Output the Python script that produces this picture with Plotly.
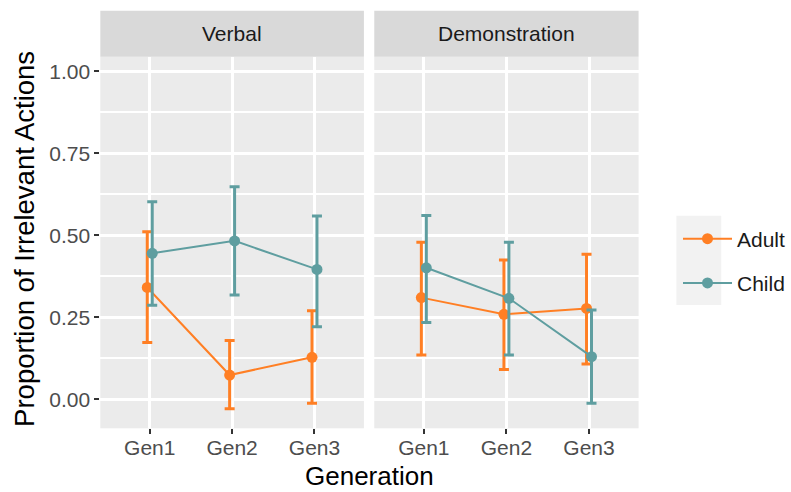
import plotly.graph_objects as go

# ---- data ----
generations = ["Gen1", "Gen2", "Gen3"]
panels = ["Verbal", "Demonstration"]
groups = ["Adult", "Child"]

verbal_adult_mean = [0.341, 0.074, 0.128]
verbal_adult_upper = [0.511, 0.179, 0.270]
verbal_adult_lower = [0.173, -0.029, -0.012]

verbal_child_mean = [0.445, 0.483, 0.396]
verbal_child_upper = [0.602, 0.648, 0.559]
verbal_child_lower = [0.287, 0.318, 0.221]

demo_adult_mean = [0.310, 0.259, 0.277]
demo_adult_upper = [0.479, 0.425, 0.442]
demo_adult_lower = [0.135, 0.091, 0.108]

demo_child_mean = [0.401, 0.308, 0.130]
demo_child_upper = [0.560, 0.479, 0.272]
demo_child_lower = [0.234, 0.135, -0.012]

y_ticks = [0.0, 0.25, 0.5, 0.75, 1.0]
y_tick_labels = ["0.00", "0.25", "0.50", "0.75", "1.00"]

# ---- styling ----
colors = {"Adult": "#FF7F24", "Child": "#5F9EA0"}
dodge = {"Adult": -0.03, "Child": 0.03}
W, H = 791, 492
FONT = "Liberation Sans, Arial"

def px_x(p):
    return p / W

def px_y(p):
    return 1 - p / H

x1_dom = [px_x(100.7), px_x(365.3)]
x2_dom = [px_x(375.7), px_x(641.0)]
y_dom = [px_y(428.3), px_y(56.7)]
y_range = [-0.0884, 1.0445]

fig = go.Figure()

series = {
    ("Verbal", "Adult"): (verbal_adult_mean, verbal_adult_upper, verbal_adult_lower),
    ("Verbal", "Child"): (verbal_child_mean, verbal_child_upper, verbal_child_lower),
    ("Demonstration", "Adult"): (demo_adult_mean, demo_adult_upper, demo_adult_lower),
    ("Demonstration", "Child"): (demo_child_mean, demo_child_upper, demo_child_lower),
}

for pi, panel in enumerate(panels):
    xa = "x" if pi == 0 else "x2"
    ya = "y" if pi == 0 else "y2"
    for g in groups:
        m, up, lo = series[(panel, g)]
        xs = [i + 1 + dodge[g] for i in range(len(generations))]
        fig.add_trace(go.Scatter(
            x=xs, y=m, mode="lines+markers", name=g,
            legendgroup=g, showlegend=(pi == 0),
            xaxis=xa, yaxis=ya,
            line=dict(color=colors[g], width=2),
            marker=dict(color=colors[g], size=11),
            error_y=dict(type="data", symmetric=False,
                         array=[u - v for u, v in zip(up, m)],
                         arrayminus=[v - l for v, l in zip(m, lo)],
                         color=colors[g], thickness=3, width=5),
        ))

axis_common = dict(
    range=[0.4, 3.6], tickmode="array", tickvals=[1, 2, 3], ticktext=generations,
    showgrid=True, gridcolor="white", gridwidth=2.5, zeroline=False,
    ticks="outside", ticklen=5, tickwidth=2, tickcolor="#333333",
    tickfont=dict(family=FONT, size=21, color="#4D4D4D"),
    showline=False, fixedrange=True,
)
yaxis_common = dict(
    range=y_range, tickmode="array", tickvals=y_ticks,
    showgrid=True, gridcolor="white", gridwidth=2.5, zeroline=False,
    minor=dict(tickvals=[0.125, 0.375, 0.625, 0.875], showgrid=True,
               gridcolor="white", gridwidth=1.5, ticks=""),
    showline=False, fixedrange=True, domain=y_dom,
)

fig.update_layout(
    width=W, height=H,
    margin=dict(l=0, r=0, t=0, b=0),
    paper_bgcolor="white",
    plot_bgcolor="#EBEBEB",
    font=dict(family=FONT, color="#1A1A1A"),
    xaxis=dict(domain=x1_dom, anchor="y", **axis_common),
    xaxis2=dict(domain=x2_dom, anchor="y2", **axis_common),
    yaxis=dict(anchor="x", ticktext=y_tick_labels, ticks="outside", ticklen=5,
               tickwidth=2, tickcolor="#333333",
               tickfont=dict(family=FONT, size=21, color="#4D4D4D"),
               **yaxis_common),
    yaxis2=dict(anchor="x2", showticklabels=False, ticks="", **yaxis_common),
    showlegend=True,
    legend=dict(x=px_x(681), y=px_y(261), xanchor="left", yanchor="middle",
                bgcolor="rgba(0,0,0,0)", borderwidth=0,
                font=dict(family=FONT, size=21, color="#1A1A1A"),
                itemwidth=49, tracegroupgap=14),
)
fig.update_xaxes(ticklabelstandoff=-5)

shapes = []
# strip backgrounds
for dom in (x1_dom, x2_dom):
    shapes.append(dict(type="rect", xref="paper", yref="paper",
                       x0=dom[0], x1=dom[1], y0=px_y(56.7), y1=px_y(10.7),
                       fillcolor="#D9D9D9", line=dict(width=0), layer="below"))
# legend key background
shapes.append(dict(type="rect", xref="paper", yref="paper",
                   x0=px_x(679), x1=px_x(724), y0=px_y(305), y1=px_y(215.7),
                   fillcolor="#F2F2F2", line=dict(width=0), layer="below"))
fig.update_layout(shapes=shapes)

annotations = []
for dom, panel in zip((x1_dom, x2_dom), panels):
    annotations.append(dict(text=panel, xref="paper", yref="paper",
                            x=(dom[0] + dom[1]) / 2, y=px_y(33.7),
                            xanchor="center", yanchor="middle", showarrow=False,
                            font=dict(family=FONT, size=21, color="#1A1A1A")))
annotations.append(dict(text="Generation", xref="paper", yref="paper",
                        x=(x1_dom[0] + x2_dom[1]) / 2, y=px_y(476),
                        xanchor="center", yanchor="middle", showarrow=False,
                        font=dict(family=FONT, size=26, color="black")))
annotations.append(dict(text="Proportion of Irrelevant Actions", xref="paper", yref="paper",
                        x=px_x(24), y=px_y(239), textangle=-90,
                        xanchor="center", yanchor="middle", showarrow=False,
                        font=dict(family=FONT, size=27.5, color="black")))
fig.update_layout(annotations=annotations)

fig.write_html("out.html")
